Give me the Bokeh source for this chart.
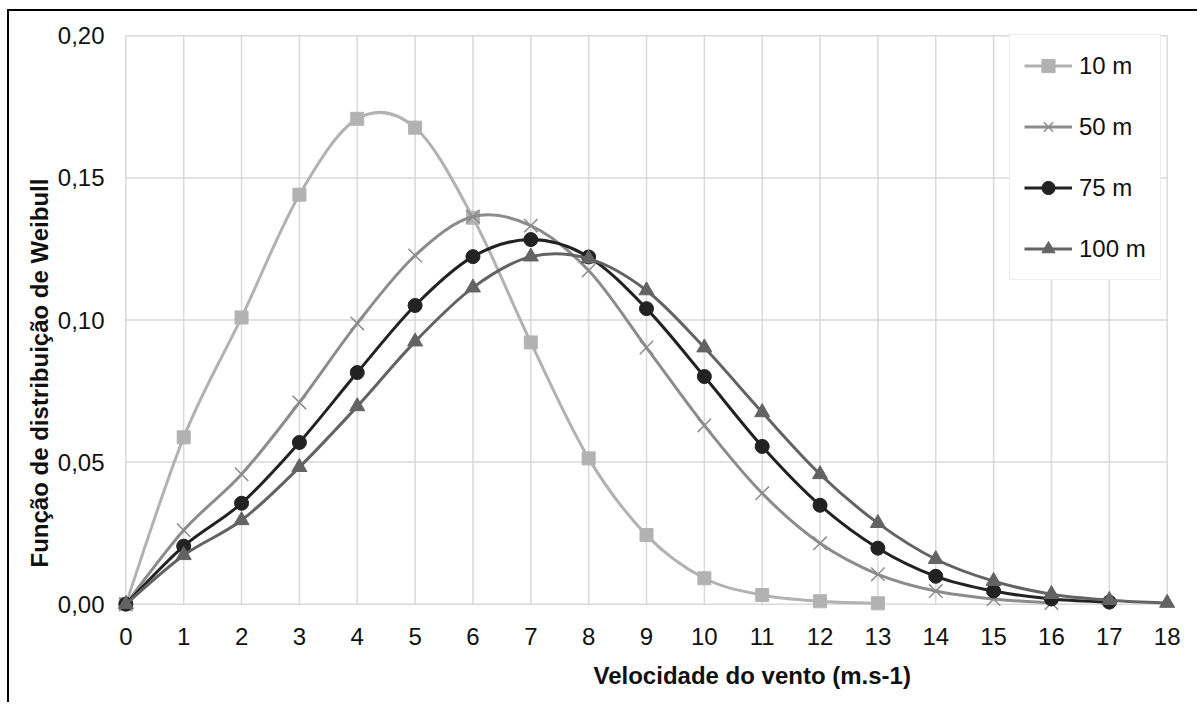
import numpy as np
from bokeh.plotting import figure
from bokeh.models import (Range1d, FixedTicker, Legend, LegendItem, Title,
                          CustomJSTickFormatter)
from bokeh.embed import file_html
from bokeh.resources import INLINE

# ---------------- data ----------------
x_ticks = list(range(0, 19))
y_ticks = [0.0, 0.05, 0.10, 0.15, 0.20]

x_10 = list(range(0, 14))
y_10 = [0.0, 0.0587, 0.1009, 0.1441, 0.1708, 0.1677, 0.1360, 0.0921,
        0.0513, 0.0243, 0.0091, 0.0032, 0.0010, 0.0003]

x_50 = list(range(0, 17))
y_50 = [0.0, 0.0260, 0.0457, 0.0710, 0.0988, 0.1227, 0.1364, 0.1332,
        0.1174, 0.0903, 0.0629, 0.0390, 0.0214, 0.0105, 0.0046, 0.0018, 0.0004]

x_75 = list(range(0, 18))
y_75 = [0.0, 0.0204, 0.0355, 0.0569, 0.0815, 0.1051, 0.1223, 0.1283,
        0.1222, 0.1040, 0.0801, 0.0555, 0.0348, 0.0197, 0.0098, 0.0046,
        0.0018, 0.0007]

x_100 = list(range(0, 19))
y_100 = [0.0, 0.0172, 0.0295, 0.0482, 0.0696, 0.0924, 0.1114, 0.1223,
         0.1216, 0.1104, 0.0903, 0.0675, 0.0457, 0.0285, 0.0158, 0.0081,
         0.0035, 0.0014, 0.0004]

series = [
    ("10 m", x_10, y_10, "#b2b2b2", "square"),
    ("50 m", x_50, y_50, "#8c8c8c", "x"),
    ("75 m", x_75, y_75, "#222222", "circle"),
    ("100 m", x_100, y_100, "#636363", "triangle"),
]

FONT = "Liberation Sans"
FS = "24px"

# canvas is offset by (9, 11) in the page because of margin + border
p = figure(width=1190, height=693, output_backend="svg", toolbar_location=None,
           x_range=Range1d(-0.3, 18.3), y_range=Range1d(-0.004, 0.204),
           min_border_left=99, min_border_right=15, min_border_top=13,
           min_border_bottom=89, margin=(9, 0, 0, 7))
p.styles = {"border-left": "2px solid #000000", "border-top": "2px solid #000000"}
p.outline_line_color = None
p.background_fill_color = "white"
p.border_fill_color = "white"
p.xgrid.visible = False
p.ygrid.visible = False

# grid lines (drawn over the data extent 0..18, 0..0.20)
p.segment(x0=x_ticks, y0=[0] * len(x_ticks), x1=x_ticks, y1=[0.20] * len(x_ticks),
          line_color="#d9d9d9", line_width=1.5)
p.segment(x0=[0] * len(y_ticks), y0=y_ticks, x1=[18] * len(y_ticks), y1=y_ticks,
          line_color="#d9d9d9", line_width=1.5)

# axes
for ax in (p.xaxis[0], p.yaxis[0]):
    ax.axis_line_color = None
    ax.major_tick_line_color = None
    ax.minor_tick_line_color = None
    ax.major_label_text_font = FONT
    ax.major_label_text_font_size = FS
    ax.major_label_text_color = "#111111"
p.xaxis.ticker = FixedTicker(ticks=x_ticks)
p.yaxis.ticker = FixedTicker(ticks=y_ticks)
p.xaxis.major_label_standoff = 6
p.yaxis.major_label_standoff = -2
p.yaxis.formatter = CustomJSTickFormatter(code="return tick.toFixed(2).replace('.', ',');")


def bezier_segments(xs, ys):
    xs = np.asarray(xs, float)
    ys = np.asarray(ys, float)
    n = len(xs)
    x0, y0, x1, y1, cx0, cy0, cx1, cy1 = ([] for _ in range(8))
    for i in range(n - 1):
        pm = i - 1 if i > 0 else i
        pp = i + 2 if i + 2 < n else i + 1
        x0.append(xs[i]); y0.append(ys[i])
        x1.append(xs[i + 1]); y1.append(ys[i + 1])
        cx0.append(xs[i] + (xs[i + 1] - xs[pm]) / 6.0)
        cy0.append(ys[i] + (ys[i + 1] - ys[pm]) / 6.0)
        cx1.append(xs[i + 1] - (xs[pp] - xs[i]) / 6.0)
        cy1.append(ys[i + 1] - (ys[pp] - ys[i]) / 6.0)
    return dict(x0=x0, y0=y0, x1=x1, y1=y1, cx0=cx0, cy0=cy0, cx1=cx1, cy1=cy1)


items = []
for name, xs, ys, col, marker in series:
    seg = bezier_segments(xs, ys)
    r_line = p.bezier(line_color=col, line_width=3, **seg)
    if marker == "x":
        r_m = p.scatter(xs, ys, marker="x", size=19, line_color=col, line_width=1.5)
    elif marker == "triangle":
        r_m = p.scatter(xs, ys, marker="triangle", size=15, fill_color=col, line_color=col)
    elif marker == "circle":
        r_m = p.scatter(xs, ys, marker="circle", size=14, fill_color=col, line_color=col)
    else:
        r_m = p.scatter(xs, ys, marker="square", size=13, fill_color=col, line_color=col)
    items.append(LegendItem(label=name, renderers=[r_line, r_m]))

legend = Legend(items=items, location=(901, 335))
legend.label_text_font = FONT
legend.label_text_font_size = FS
legend.label_text_color = "#111111"
legend.glyph_width = 48
legend.glyph_height = 33
legend.label_height = 20
legend.label_standoff = 7
legend.spacing = 28
legend.padding = 14
legend.margin = 0
legend.border_line_color = "#d9d9d9"
legend.border_line_width = 1.5
legend.background_fill_color = "white"
legend.background_fill_alpha = 1.0
p.add_layout(legend)

# axis titles
xt = Title(text="Velocidade do vento (m.s-1)", align="left", offset=485,
           text_font=FONT, text_font_size=FS, text_font_style="bold",
           text_color="#111111", standoff=24)
p.add_layout(xt, "below")
yt = Title(text="Função de distribuição de Weibull", align="left", offset=48,
           text_font=FONT, text_font_size=FS, text_font_style="bold",
           text_color="#111111", standoff=3)
p.add_layout(yt, "left")

open("out.html", "w").write(file_html(p, INLINE))
